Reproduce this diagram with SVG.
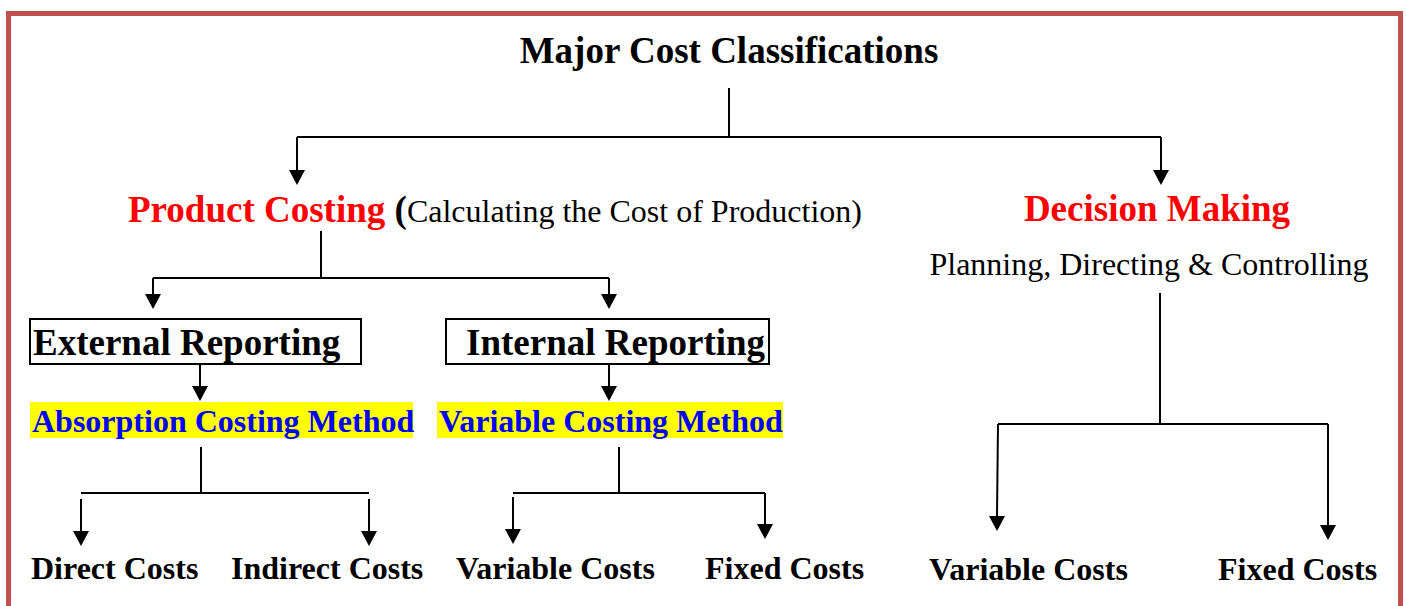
<svg xmlns="http://www.w3.org/2000/svg" width="1406" height="606" viewBox="0 0 1406 606">
<style>
.t{font-family:"Liberation Serif","Times New Roman",serif}
.b{font-weight:bold}
.big{font-size:37px}
.mid{font-size:32px}
.red{fill:#FF0000}
.blue{fill:#0000FF}
.ln{stroke:#000;stroke-width:2;fill:none}
.box{fill:#fff;stroke:#000;stroke-width:2}
.hl{fill:#FFFF00}
</style>
<rect x="8.5" y="13.5" width="1392" height="620" fill="#fff" stroke="#C0504D" stroke-width="5"/>

<g id="connectors">
<path class="ln" d="M729,88 V137"/>
<path class="ln" d="M297,137 H1161"/>
<path d="M297,137 V170" class="ln"/>
<path d="M1161,137 V170" class="ln"/>
<polygon points="289,170 305,170 297,185"/>
<polygon points="1153,170 1169,170 1161,185"/>

<path class="ln" d="M321,231 V278 M153,278 H609 M153,278 V294 M609,278 V294"/>
<polygon points="145,294 161,294 153,309"/>
<polygon points="601,294 617,294 609,309"/>

<path class="ln" d="M200,362 V386"/>
<polygon points="192,386 208,386 200,401"/>
<path class="ln" d="M609,362 V386"/>
<polygon points="601,386 617,386 609,401"/>

<path class="ln" d="M201,447 V493 M81,493 H369 M81,499 V531 M369,499 V531"/>
<polygon points="73,531 89,531 81,546"/>
<polygon points="361,531 377,531 369,546"/>

<path class="ln" d="M619,447 V493 M513,493 H765 M513,497 V529 M765,493 V524"/>
<polygon points="505,529 521,529 513,544"/>
<polygon points="757,524 773,524 765,539"/>

<path class="ln" d="M1160,293 V424 M998,424 H1328 M998,424 L997,516 M1328,424 V525"/>
<polygon points="989,516 1005,516 997,531"/>
<polygon points="1320,525 1336,525 1328,540"/>
</g>

<g id="title">
<text class="t b big" x="729" y="63" text-anchor="middle">Major Cost Classifications</text>
</g>

<g id="product-costing">
<text class="t" x="128" y="222"><tspan class="b big red">Product Costing </tspan><tspan class="b big">(</tspan><tspan class="mid">Calculating the Cost of Production)</tspan></text>
</g>

<g id="decision-making">
<text class="t b big red" x="1157" y="221" text-anchor="middle">Decision Making</text>
<text class="t mid" x="1149" y="275" text-anchor="middle">Planning, Directing &amp; Controlling</text>
</g>

<g id="external-reporting">
<rect class="box" x="30" y="319" width="331" height="45"/>
<text class="t b big" x="33" y="355">External Reporting</text>
</g>

<g id="internal-reporting">
<rect class="box" x="446" y="319" width="323" height="45"/>
<text class="t b big" x="466" y="355">Internal Reporting</text>
</g>

<g id="absorption">
<rect class="hl" x="30" y="402" width="383" height="36"/>
<text class="t b mid blue" x="32" y="432">Absorption Costing Method</text>
</g>

<g id="variable-method">
<rect class="hl" x="437" y="402" width="346" height="36"/>
<text class="t b mid blue" x="439" y="432">Variable Costing Method</text>
</g>

<g id="direct-costs"><text class="t b mid" x="31" y="579">Direct Costs</text></g>
<g id="indirect-costs"><text class="t b mid" x="231" y="579">Indirect Costs</text></g>
<g id="variable-costs-1"><text class="t b mid" x="456" y="579">Variable Costs</text></g>
<g id="fixed-costs-1"><text class="t b mid" x="705" y="579">Fixed Costs</text></g>
<g id="variable-costs-2"><text class="t b mid" x="929" y="580">Variable Costs</text></g>
<g id="fixed-costs-2"><text class="t b mid" x="1218" y="580">Fixed Costs</text></g>
</svg>
